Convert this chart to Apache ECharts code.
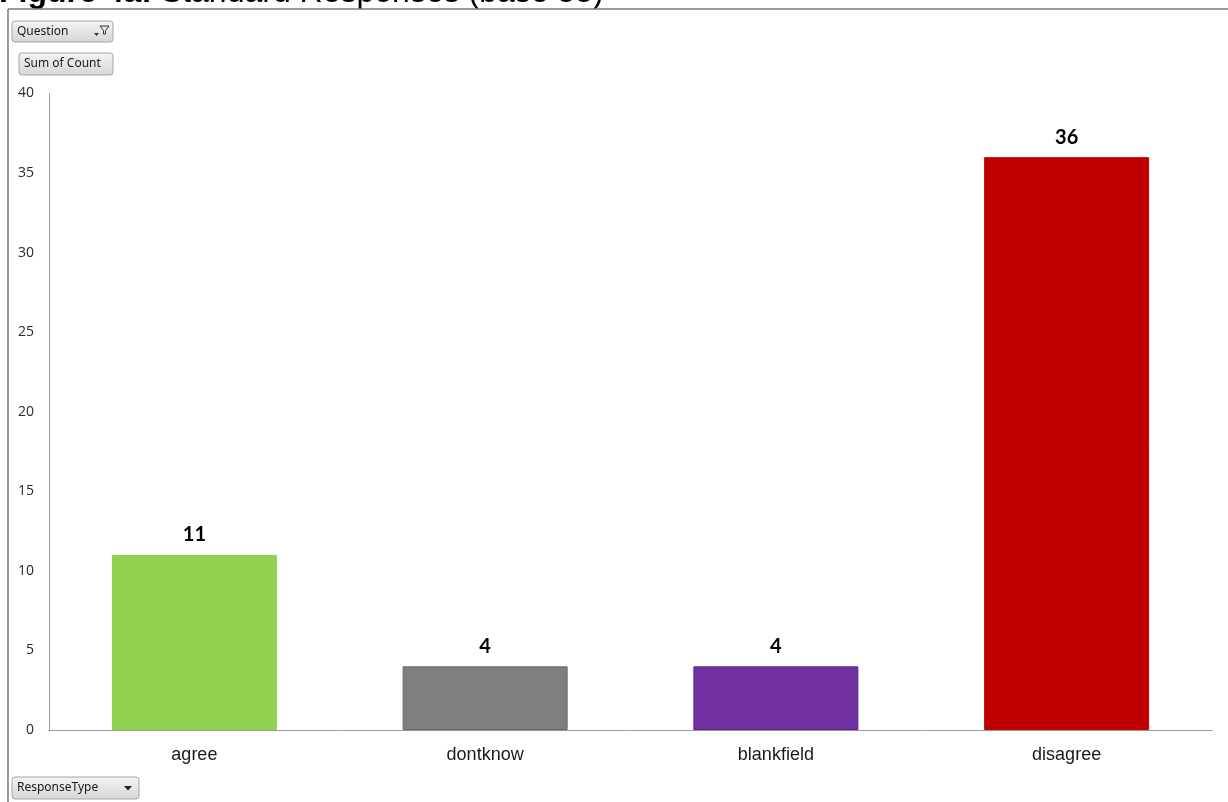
<!DOCTYPE html>
<html>
<head>
<meta charset="utf-8">
<script src="https://cdn.jsdelivr.net/npm/echarts@6/dist/echarts.min.js"></script>
<style>
  html, body { margin: 0; padding: 0; background: #ffffff; }
  #chart { width: 1228px; height: 802px; }
</style>
</head>
<body>
<div id="chart"></div>
<script>
const categories = ['agree', 'dontknow', 'blankfield', 'disagree'];
const counts = [11, 4, 4, 36];
const barColors = ['#92D050', '#7F7F7F', '#7030A0', '#C00000'];
const barBorders = ['#92D050', '#666666', '#5A2088', '#C00000'];
const yTicks = [0, 5, 10, 15, 20, 25, 30, 35, 40];
const titleBold = 'Figure 4a:';
const titleRest = ' Standard Responses (base 55)';

const chart = echarts.init(document.getElementById('chart'), null, { renderer: 'canvas' });

const btnFill = {
  type: 'linear', x: 0, y: 0, x2: 0, y2: 1,
  colorStops: [{ offset: 0, color: '#f4f4f4' }, { offset: 1, color: '#d6d6d6' }]
};

function button(x, y, w, h, label) {
  return [
    { type: 'rect', shape: { x: x, y: y, width: w, height: h, r: 3 },
      style: { fill: btnFill, stroke: '#a6a6a6', lineWidth: 1 }, z: 10 },
    { type: 'text', x: x + 5, y: y + h / 2,
      style: { text: label, font: '12px "Noto Sans"', fill: '#1a1a1a', verticalAlign: 'middle', align: 'left' }, z: 11 }
  ];
}

const graphics = [
  // frame
  { type: 'line', shape: { x1: 8, y1: 9, x2: 1228, y2: 9 }, style: { stroke: '#7a7a7a', lineWidth: 1.5 }, z: 5 },
  { type: 'line', shape: { x1: 8, y1: 9, x2: 8, y2: 802 }, style: { stroke: '#7a7a7a', lineWidth: 1.5 }, z: 5 },
  // title (clipped at top)
  { type: 'text', x: -1, y: -7,
    style: {
      text: '{b|' + titleBold + '}{r|' + titleRest + '}',
      verticalAlign: 'middle', align: 'left',
      rich: {
        b: { font: 'bold 32px "Liberation Sans"', fill: '#000' },
        r: { font: '32px "Liberation Sans"', fill: '#000' }
      }
    }, z: 4 }
].concat(
  button(12, 21, 101, 21, 'Question'),
  button(19, 53, 94, 22, 'Sum of Count'),
  button(12, 777, 127, 22, 'ResponseType'),
  [
    // filter icon on Question button
    { type: 'polygon', shape: { points: [[100, 26], [109, 26], [105.5, 30.5], [105.5, 34], [103.5, 34], [103.5, 30.5]] },
      style: { fill: 'none', stroke: '#333', lineWidth: 1 }, z: 12 },
    { type: 'polygon', shape: { points: [[94, 33], [99, 33], [96.5, 36]] }, style: { fill: '#333' }, z: 12 },
    // dropdown arrow on ResponseType
    { type: 'polygon', shape: { points: [[124, 786], [132, 786], [128, 790.5]] }, style: { fill: '#222' }, z: 12 }
  ]
);

const option = {
  animation: false,
  backgroundColor: '#ffffff',
  grid: { left: 49, right: 16, top: 93.5, bottom: 72, containLabel: false },
  xAxis: {
    type: 'category',
    data: categories,
    axisLine: { show: true, lineStyle: { color: '#9a9a9a', width: 1 } },
    axisTick: { show: false },
    axisLabel: { fontSize: 18, fontFamily: 'Liberation Sans', color: '#1a1a1a', margin: 16 },
    splitLine: { show: false }
  },
  yAxis: {
    type: 'value',
    min: yTicks[0],
    max: yTicks[yTicks.length - 1],
    interval: yTicks[1] - yTicks[0],
    axisLine: { show: true, lineStyle: { color: '#9a9a9a', width: 1 } },
    axisTick: { show: false },
    splitLine: { show: false },
    axisLabel: { fontSize: 14, fontFamily: 'Open Sans', color: '#2a2a2a', margin: 15 }
  },
  series: [{
    type: 'bar',
    barWidth: 165,
    data: counts.map((v, i) => ({
      value: v,
      itemStyle: { color: barColors[i], borderColor: barBorders[i], borderWidth: 1 }
    })),
    label: {
      show: true,
      position: 'top',
      distance: 10,
      fontFamily: 'Lato',
      fontWeight: 'bold',
      fontSize: 20,
      color: '#000'
    }
  }],
  graphic: graphics
};

chart.setOption(option);
</script>
</body>
</html>
